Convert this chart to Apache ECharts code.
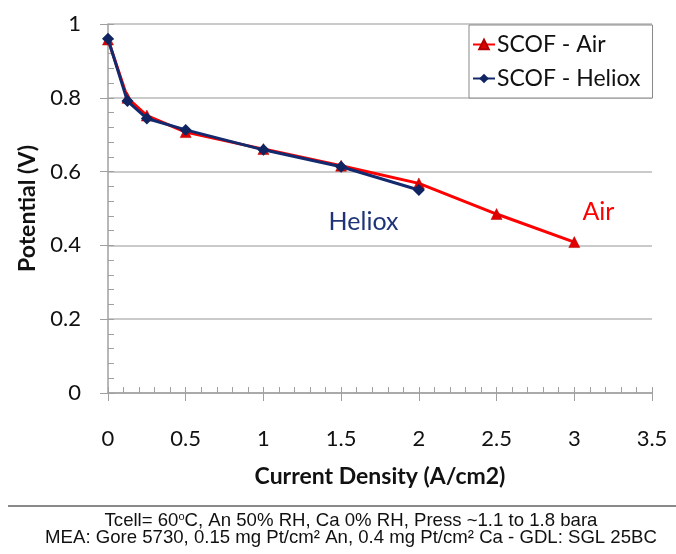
<!DOCTYPE html>
<html>
<head>
<meta charset="utf-8">
<script src="https://cdn.jsdelivr.net/npm/echarts@6/dist/echarts.min.js"></script>
<style>
	html, body { margin: 0; padding: 0; background: #fff; }
	#chart { width: 676px; height: 554px; }
</style>
</head>
<body>
<div id="chart"></div>
<script>
	// data
	var airX = [0, 0.125, 0.25, 0.5, 1, 1.5, 2, 2.5, 3];
	var airV = [0.958, 0.80, 0.752, 0.707, 0.661, 0.616, 0.568, 0.485, 0.409];
	var helioxX = [0, 0.125, 0.25, 0.5, 1, 1.5, 2];
	var helioxV = [0.96, 0.791, 0.744, 0.713, 0.659, 0.613, 0.55];
	var seriesNames = ['SCOF - Air', 'SCOF - Heliox'];

	function pairs(xs, ys) {
		return xs.map(function (x, i) { return [x, ys[i]]; });
	}

	var font = 'Lato';
	var chart = echarts.init(document.getElementById('chart'));
	chart.setOption({
		animation: false,
		grid: { left: 108, right: 24, top: 24, bottom: 161 },
		legend: {
			orient: 'vertical',
			left: 469,
			top: 25,
			data: seriesNames,
			backgroundColor: '#fff',
			borderColor: '#888',
			borderWidth: 1,
			padding: [8, 12, 8, 3],
			itemGap: 11,
			itemWidth: 22,
			itemHeight: 12,
			textStyle: { fontFamily: font, fontSize: 23, color: '#111', padding: [0, 0, 0, -3] }
		},
		xAxis: [{
			type: 'value', min: 0, max: 3.5, interval: 0.5,
			name: 'Current Density (A/cm2)',
			nameLocation: 'middle', nameGap: 72,
			nameTextStyle: { fontFamily: font, fontSize: 23, fontWeight: 'bold', color: '#111' },
			axisLine: { show: true, lineStyle: { color: '#a0a0a0', width: 1.5 } },
			axisTick: { show: true, length: 8, lineStyle: { color: '#a0a0a0' } },
			axisLabel: { margin: 35, fontFamily: font, fontSize: 22, color: '#111' },
			splitLine: { show: false }
		}, {
			// minor ticks, drawn inside
			type: 'value', min: 0, max: 3.5, interval: 0.1, position: 'bottom',
			axisLine: { show: false },
			axisTick: { show: true, inside: true, length: 6, lineStyle: { color: '#a0a0a0' } },
			axisLabel: { show: false },
			splitLine: { show: false }
		}],
		yAxis: [{
			type: 'value', min: 0, max: 1, interval: 0.2,
			name: 'Potential (V)',
			nameLocation: 'middle', nameGap: 68,
			nameTextStyle: { fontFamily: font, fontSize: 23, fontWeight: 'bold', color: '#111' },
			axisLine: { show: true, lineStyle: { color: '#a0a0a0', width: 1.5 } },
			axisTick: { show: true, length: 8, lineStyle: { color: '#a0a0a0' } },
			axisLabel: { margin: 27, fontFamily: font, fontSize: 22, color: '#111' },
			splitLine: { show: true, lineStyle: { color: '#b8b8b8', width: 1.5 } }
		}, {
			type: 'value', min: 0, max: 1, interval: 0.04, position: 'left',
			axisLine: { show: false },
			axisTick: { show: true, inside: true, length: 6, lineStyle: { color: '#a0a0a0' } },
			axisLabel: { show: false },
			splitLine: { show: false }
		}],
		series: [{
			name: seriesNames[0],
			type: 'line',
			data: pairs(airX, airV),
			symbol: 'triangle',
			symbolSize: 11,
			lineStyle: { color: '#ff0000', width: 3 },
			itemStyle: { color: '#e00000', borderColor: '#b00000', borderWidth: 0.5 },
			markPoint: {
				symbol: 'circle', symbolSize: 0,
				data: [{ coord: [3.155, 0.49], value: 'Air' }],
				label: { show: true, formatter: 'Air', fontFamily: font, fontSize: 25, color: '#ff0000' }
			},
			z: 2
		}, {
			name: seriesNames[1],
			type: 'line',
			data: pairs(helioxX, helioxV),
			symbol: 'diamond',
			symbolSize: 12,
			lineStyle: { color: '#142a6e', width: 3 },
			itemStyle: { color: '#0f2460' },
			markPoint: {
				symbol: 'circle', symbolSize: 0,
				data: [{ coord: [1.644, 0.463], value: 'Heliox' }],
				label: { show: true, formatter: 'Heliox', fontFamily: font, fontSize: 25, color: '#1f3478' }
			},
			z: 3
		}],
		graphic: [{
			type: 'line',
			shape: { x1: 8, y1: 506, x2: 676, y2: 506 },
			style: { stroke: '#8a8a8a', lineWidth: 2 }
		}, {
			type: 'text',
			x: 351,
			y: 521,
			style: {
				text: 'Tcell= 60{sup|o}C, An 50% RH, Ca 0% RH, Press ~1.1 to 1.8 bara',
				font: '18.6px "Liberation Sans"',
				fill: '#111',
				align: 'center',
				verticalAlign: 'middle',
				rich: { sup: { fontSize: 11, verticalAlign: 'top', fontFamily: 'Liberation Sans' } }
			}
		}, {
			type: 'text',
			x: 351,
			y: 538,
			style: {
				text: 'MEA: Gore 5730, 0.15 mg Pt/cm² An, 0.4 mg Pt/cm² Ca - GDL: SGL 25BC',
				font: '18.6px "Liberation Sans"',
				fill: '#111',
				align: 'center',
				verticalAlign: 'middle'
			}
		}]
	});
</script>
</body>
</html>
